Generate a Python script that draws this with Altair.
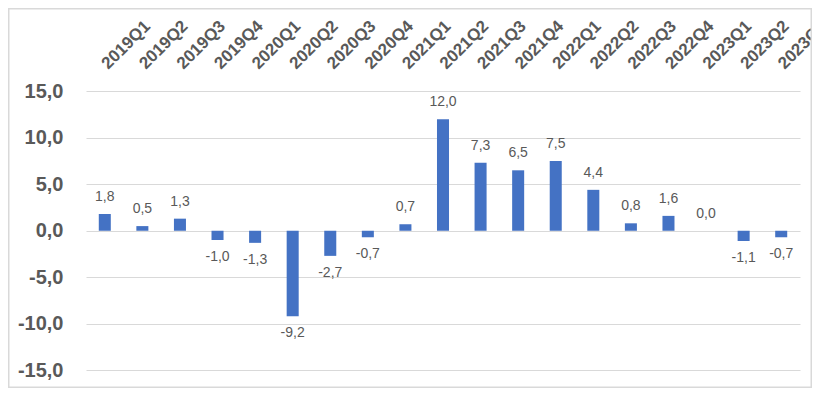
import altair as alt
import pandas as pd

quarters = ["2019Q1", "2019Q2", "2019Q3", "2019Q4",
            "2020Q1", "2020Q2", "2020Q3", "2020Q4",
            "2021Q1", "2021Q2", "2021Q3", "2021Q4",
            "2022Q1", "2022Q2", "2022Q3", "2022Q4",
            "2023Q1", "2023Q2", "2023Q3"]
values = [1.8, 0.5, 1.3, -1.0, -1.3, -9.2, -2.7, -0.7, 0.7, 12.0,
          7.3, 6.5, 7.5, 4.4, 0.8, 1.6, 0.0, -1.1, -0.7]
y_ticks = [-15, -10, -5, 0, 5, 10, 15]

df = pd.DataFrame({"q": quarters, "v": values})
df["lab"] = [f"{v:.1f}".replace(".", ",") for v in values]

W, H = 714, 319
PAD_L, PAD_T, PAD_R, PAD_B = 78, 60, 12, 1
FONT = "Liberation Sans"
GREY = "#595959"

x_enc = alt.X("q:N", sort=quarters, title=None,
              scale=alt.Scale(paddingInner=0.68, paddingOuter=0.34),
              axis=alt.Axis(orient="top", labelAngle=-45, labelAlign="left",
                            labelBaseline="middle", labelPadding=2,
                            domain=False, ticks=False, grid=False,
                            labelFont=FONT, labelFontSize=17,
                            labelFontWeight="bold", labelColor=GREY))
y_scale = alt.Scale(domain=[-16.8, 17.5], nice=False, zero=False)
y_enc = alt.Y("v:Q", scale=y_scale, title=None,
              axis=alt.Axis(values=y_ticks, domain=False, ticks=False,
                            grid=True, gridColor="#D9D9D9", gridWidth=1,
                            labelExpr="(datum.value < 0 ? '-' : '') + abs(datum.value) + ',0'",
                            labelFont=FONT, labelFontSize=20,
                            labelFontWeight="bold", labelColor=GREY,
                            labelPadding=23))

base = alt.Chart(df)

bars = base.mark_bar(color="#4472C4").encode(x=x_enc, y=y_enc, y2=alt.datum(0))

pos_text = base.transform_filter("datum.v >= 0").mark_text(
    dy=-17, baseline="middle", font=FONT, fontSize=14, color=GREY
).encode(x=alt.X("q:N", sort=quarters), y=alt.Y("v:Q"), text="lab:N")

neg_text = base.transform_filter("datum.v < 0").mark_text(
    dy=17, baseline="middle", font=FONT, fontSize=14, color=GREY
).encode(x=alt.X("q:N", sort=quarters), y=alt.Y("v:Q"), text="lab:N")

border = alt.Chart(pd.DataFrame({"a": [0]})).mark_rect(
    fill=None, stroke="#D9D9D9", strokeWidth=1.5
).encode(
    x=alt.value(-PAD_L + 0.75), x2=alt.value(W + PAD_R - 0.75),
    y=alt.value(-PAD_T + 0.75), y2=alt.value(H + PAD_B - 0.75),
)

chart = alt.layer(bars, pos_text, neg_text, border).properties(
    width=W, height=H,
    autosize=alt.AutoSizeParams(type="none"),
    padding={"left": PAD_L, "top": PAD_T, "right": PAD_R, "bottom": PAD_B},
    background="white",
).configure_view(stroke=None)

chart.save("out.html", embed_options={"renderer": "svg", "actions": False})
